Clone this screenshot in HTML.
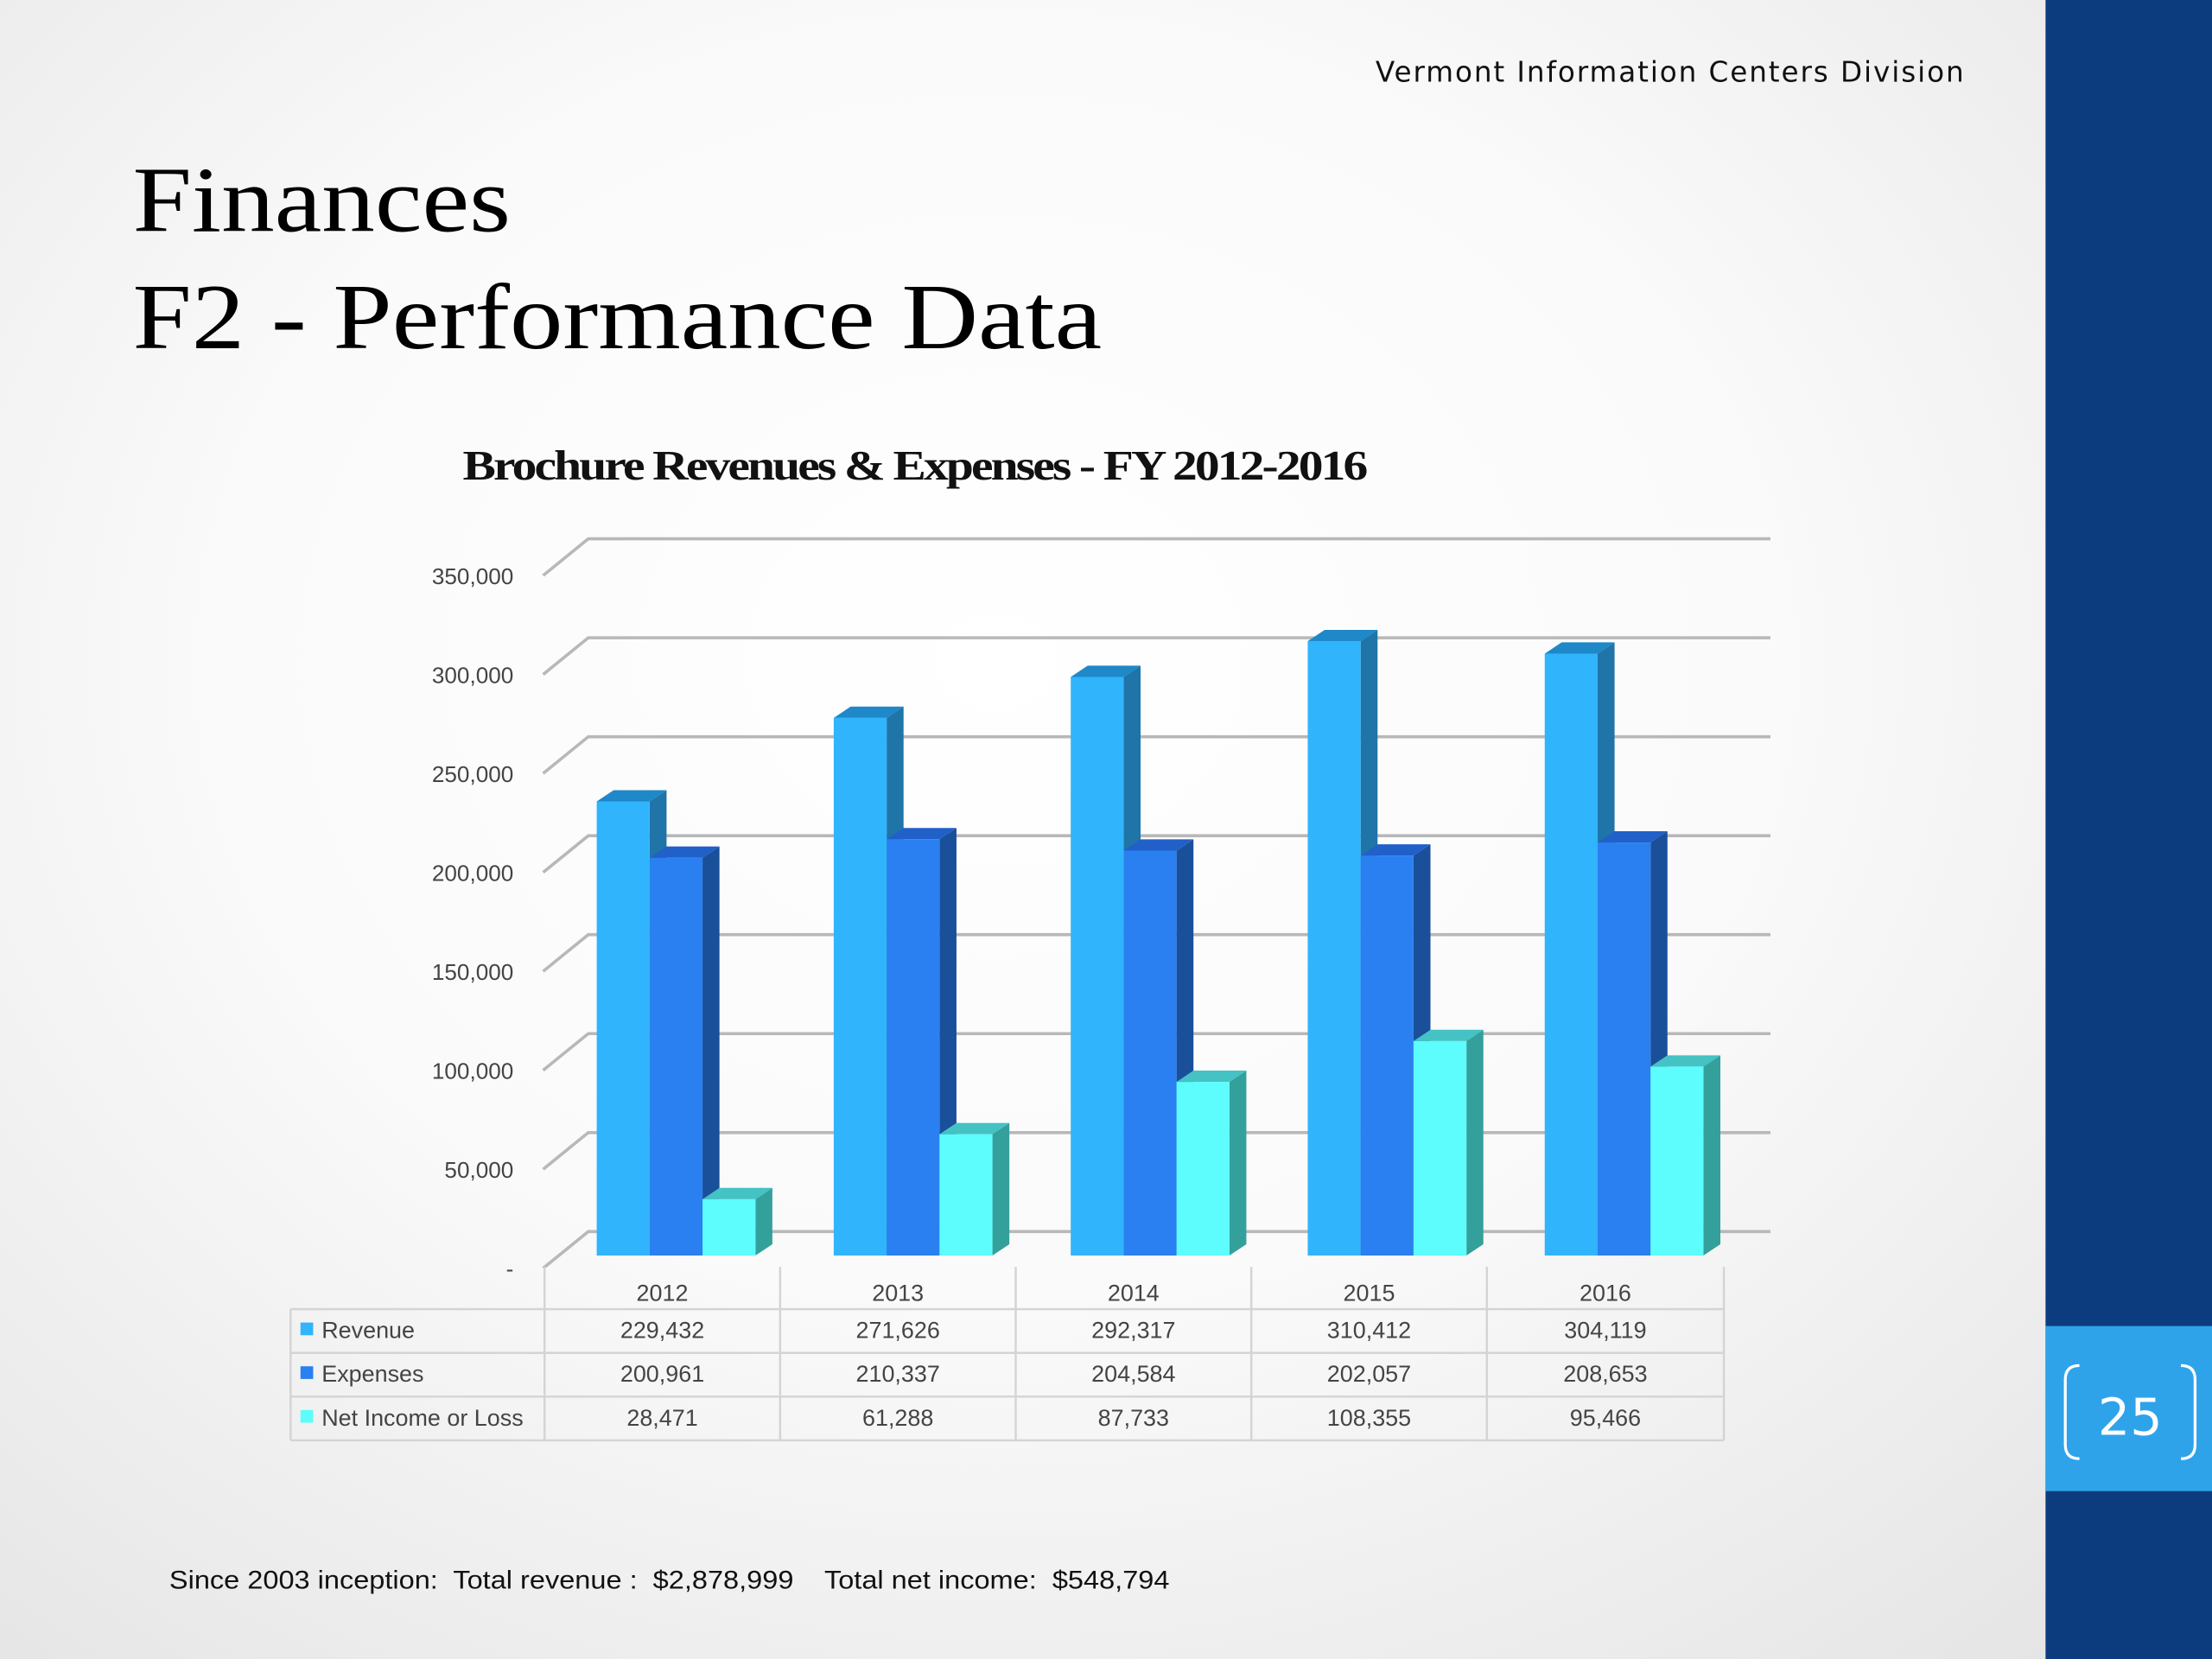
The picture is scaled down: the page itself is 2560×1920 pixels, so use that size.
<!DOCTYPE html>
<html><head><meta charset="utf-8"><style>
html,body{margin:0;padding:0;width:2560px;height:1920px;overflow:hidden;}
body{background:radial-gradient(ellipse at 45% 40%,#ffffff 0%,#fafafa 45%,#e2e2e2 100%);}
svg{display:block;}
</style></head><body>
<svg width="2560" height="1920" viewBox="0 0 1568 1176" xmlns="http://www.w3.org/2000/svg">
<rect x="1450" y="0" width="118" height="1176" fill="#0d3c7e"/>
<rect x="1450" y="940" width="118" height="117" fill="#2ea3ea"/>
<text x="1510" y="1017" font-family="DejaVu Sans, sans-serif" font-size="36" fill="#fff" text-anchor="middle">25</text>
<path d="M1474 968 q-10 0 -10 10 v46 q0 10 10 10" fill="none" stroke="#fff" stroke-width="2"/>
<path d="M1546 968 q10 0 10 10 v46 q0 10 -10 10" fill="none" stroke="#fff" stroke-width="2"/>
<text x="975" y="58" textLength="417" lengthAdjust="spacing" font-family="DejaVu Sans, Verdana, sans-serif" font-size="20" fill="#111">Vermont Information Centers Division</text>
<text x="94" y="164" textLength="268" lengthAdjust="spacingAndGlyphs" font-family="Liberation Serif, serif" font-size="66" fill="#000">Finances</text>
<text x="94" y="247" textLength="687" lengthAdjust="spacingAndGlyphs" font-family="Liberation Serif, serif" font-size="66" fill="#000">F2 - Performance Data</text>
<text x="328" y="340" textLength="640" lengthAdjust="spacingAndGlyphs" font-family="Liberation Serif, serif" font-size="30" font-weight="bold" letter-spacing="-1.5" fill="#111">Brochure Revenues &amp; Expenses - FY 2012-2016</text>
<g id="chart"></g>
<text x="120" y="1126" textLength="709" lengthAdjust="spacingAndGlyphs" font-family="Liberation Sans, sans-serif" font-size="18" fill="#111" xml:space="preserve">Since 2003 inception:  Total revenue :  $2,878,999    Total net income:  $548,794</text>
</svg>
<script>
const categories = ["2012","2013","2014","2015","2016"];
const revenue = [229432,271626,292317,310412,304119];
const expenses = [200961,210337,204584,202057,208653];
const netIncome = [28471,61288,87733,108355,95466];
const seriesNames = ["Revenue","Expenses","Net Income or Loss"];
const yTicks = [0,50000,100000,150000,200000,250000,300000,350000];
const yTickLabels = ["-","50,000","100,000","150,000","200,000","250,000","300,000","350,000"];

const NS="http://www.w3.org/2000/svg";
const g=document.getElementById('chart');
function el(t,a,parent){const e=document.createElementNS(NS,t);for(const k in a)e.setAttribute(k,a[k]);(parent||g).appendChild(e);return e;}
const fmt=v=>v.toLocaleString('en-US');
const k=0.001403, base=890, dx=12, dy=-8, backBase=873;
const y=v=>base-v*k;
const yb=v=>backBase-v*k;
const groupX=i=>423+i*168;
const bw=37.5;

yTicks.forEach((t,i)=>{
  const p=el('polyline',{points:`385,${yb(t)+26} 417,${yb(t)} 1255,${yb(t)}`,fill:'none',stroke:'#b8b8b8','stroke-width':2.2});
  
  
  const tx=el('text',{x:364,y:yb(t)+32,'text-anchor':'end','font-family':'Liberation Sans, sans-serif','font-size':16,fill:'#444'});
  tx.textContent=yTickLabels[i];
  
  
});

const series=[revenue,expenses,netIncome];
const colors=[["#30b4fc","#1e88c8","#1f74a8"],["#2a80f0","#2160c8","#1a4f9a"],["#5cfdfc","#44c2c4","#34a09c"]];
const swatch=["#30b4fc","#2a80f0","#5cfdfc"];
categories.forEach((c,i)=>{
  series.forEach((s,j)=>{
    const x0=groupX(i)+j*bw, x1=x0+bw, yt=y(s[i]);
    const gg=el('g',{});
    
    
    el('polygon',{points:`${x1},${yt} ${x1+dx},${yt+dy} ${x1+dx},${base+dy} ${x1},${base}`,fill:colors[j][2]},gg);
    el('polygon',{points:`${x0},${yt} ${x0+dx},${yt+dy} ${x1+dx},${yt+dy} ${x1},${yt}`,fill:colors[j][1]},gg);
    el('rect',{x:x0,y:yt,width:bw,height:base-yt,fill:colors[j][0]},gg);
  });
});

const colX=[206,386,553,720,887,1054,1222];
const rowY=[898,928,959,990,1021];
const tg=el('g',{});


const ln=(x1,y1,x2,y2)=>el('line',{x1,y1,x2,y2,stroke:'#d4d4d4','stroke-width':1.5},tg);
for(let r=1;r<rowY.length;r++) ln(r==1?colX[1]:colX[0],rowY[r],colX[6],rowY[r]);
ln(colX[0],rowY[1],colX[1],rowY[1]);
colX.forEach((x,i)=>ln(x,i==0?rowY[1]:rowY[0],x,rowY[4]));
const txt=(s,x,yy,anchor,name)=>{const t=el('text',{x,y:yy,'text-anchor':anchor,'font-family':'Liberation Sans, sans-serif','font-size':16.5,fill:'#444'},tg);t.textContent=s;return t;};
categories.forEach((c,i)=>txt(c,(colX[i+1]+colX[i+2])/2,922,'middle','x-category-label'));
series.forEach((s,j)=>{
  const ry=(rowY[j+1]+rowY[j+2])/2+5;
  const sw=el('rect',{x:213,y:ry-11,width:9,height:9,fill:swatch[j]},tg);
  
  
  txt(seriesNames[j],228,ry,'start','legend-entry');
  s.forEach((v,i)=>txt(fmt(v),(colX[i+1]+colX[i+2])/2,ry,'middle','table-value'));
});
</script>
</body></html>
